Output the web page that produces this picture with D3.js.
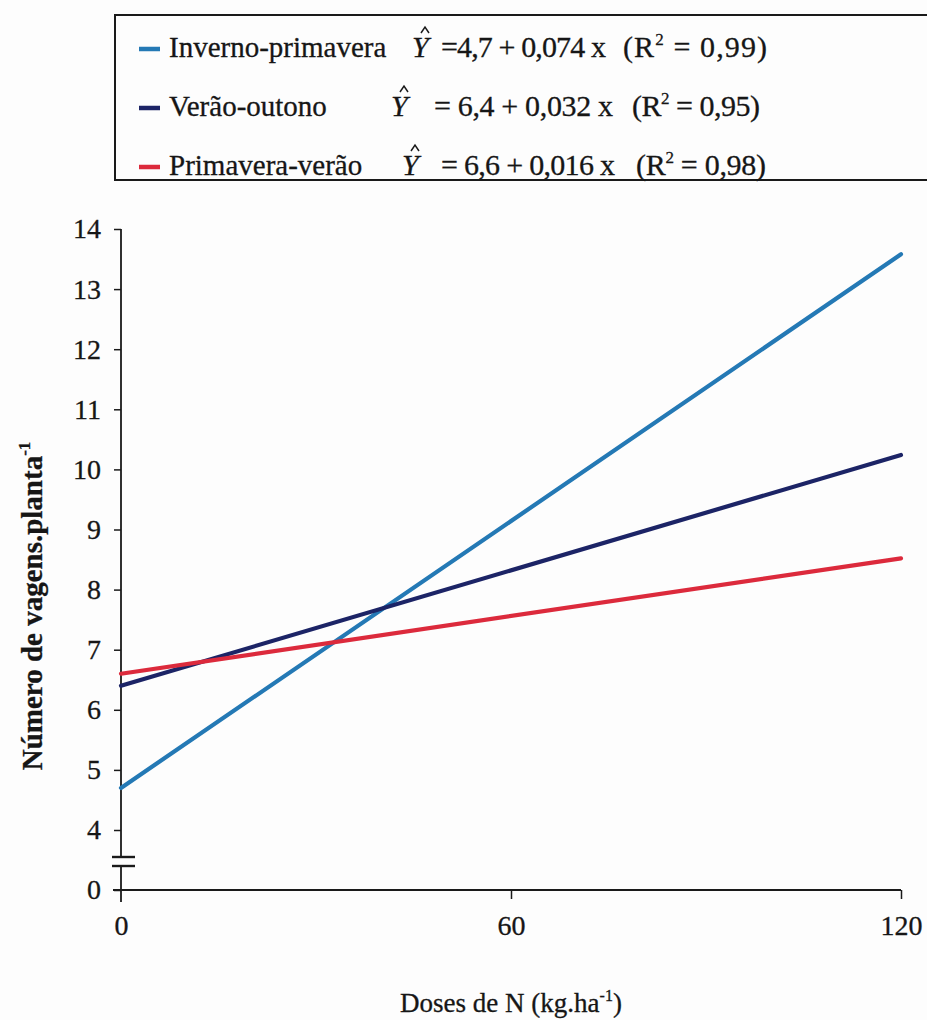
<!DOCTYPE html>
<html>
<head>
<meta charset="utf-8">
<script src="https://cdn.jsdelivr.net/npm/d3@7/dist/d3.min.js"></script>
<style>
  html, body { margin: 0; padding: 0; background: #fdfdfd; }
  svg { display: block; }
  text { font-family: "Liberation Serif", "DejaVu Serif", serif; fill: #161616; stroke: #161616; stroke-width: 0.3px; }
</style>
</head>
<body>
<svg id="chart" width="927" height="1020"></svg>
<script>
// Nitrogen dose (kg/ha) at the ends of each fitted line
const doses = [0, 120];

// Fitted number of pods per plant at each dose
const invernoPrimavera = [4.7, 13.58];
const veraoOutono = [6.4, 10.24];
const primaveraVerao = [6.6, 8.52];

// Legend entries
const seriesNames = ["Inverno-primavera", "Verão-outono", "Primavera-verão"];
const equationTexts = ["=4,7 + 0,074 x", "= 6,4 + 0,032 x", "= 6,6 + 0,016 x"];
const r2Texts = ["0,99", "0,95", "0,98"];

// Axis ticks
const xTicks = [0, 60, 120];
const yTicks = [0, 4, 5, 6, 7, 8, 9, 10, 11, 12, 13, 14];

const colors = ["#2479b5", "#1c2466", "#dc2a3c"];
const seriesValues = [invernoPrimavera, veraoOutono, primaveraVerao];

const svg = d3.select("#chart");

// Broken y-axis: 0 sits just below 4
const x = d3.scaleLinear().domain([0, 120]).range([121, 901]);
const y = d3.scaleLinear().domain([0, 4, 14]).range([890, 830, 229]);

const ink = "#1a1a1a";

// ---- Y axis ----
const yAxis = d3.axisLeft(y).tickValues(yTicks).tickSize(7).tickPadding(13)
  .tickFormat(d3.format("d"));
const gy = svg.append("g").attr("transform", `translate(${x(0)},0)`).call(yAxis);
gy.select(".domain").remove();
gy.selectAll(".tick line").attr("stroke", ink).attr("stroke-width", 1.5);
gy.selectAll(".tick text").attr("font-size", 28);

// axis spine with a gap for the break marks
const breakTop = 857, breakBottom = 866;
svg.append("line").attr("x1", x(0)).attr("x2", x(0))
  .attr("y1", y(14)).attr("y2", breakTop)
  .attr("stroke", ink).attr("stroke-width", 1.8);
svg.append("line").attr("x1", x(0)).attr("x2", x(0))
  .attr("y1", breakBottom).attr("y2", y(0) + 12)
  .attr("stroke", ink).attr("stroke-width", 1.8);
svg.selectAll("line.brk").data([breakTop, breakBottom]).enter().append("line")
  .attr("class", "brk")
  .attr("x1", x(0) - 9).attr("x2", x(0) + 14)
  .attr("y1", d => d).attr("y2", d => d)
  .attr("stroke", ink).attr("stroke-width", 2.4);

// ---- X axis ----
const xAxis = d3.axisBottom(x).tickValues(xTicks).tickSize(9).tickPadding(16)
  .tickFormat(d3.format("d"));
const gx = svg.append("g").attr("transform", `translate(0,${y(0)})`).call(xAxis);
gx.select(".domain").remove();
gx.selectAll(".tick line").attr("stroke", ink).attr("stroke-width", 1.5)
  .filter(d => d === 0).remove();
gx.selectAll(".tick text").attr("font-size", 28);
svg.append("line").attr("x1", x(0) - 8).attr("x2", x(120))
  .attr("y1", y(0)).attr("y2", y(0))
  .attr("stroke", ink).attr("stroke-width", 1.8);

// ---- Lines ----
const line = d3.line().x((d, i) => x(doses[i])).y(d => y(d));
svg.selectAll("path.series").data(seriesValues).enter().append("path")
  .attr("class", "series")
  .attr("d", d => line(d))
  .attr("fill", "none")
  .attr("stroke", (d, i) => colors[i])
  .attr("stroke-width", 4.2)
  .attr("stroke-linecap", "round");

// ---- Axis titles ----
const xt = svg.append("text").attr("x", 511).attr("y", 1012)
  .attr("text-anchor", "middle").attr("font-size", 27);
xt.append("tspan").text("Doses de N (kg.ha");
xt.append("tspan").text("-1").attr("font-size", 16).attr("dy", -11);
xt.append("tspan").text(")").attr("dy", 11);

const yt = svg.append("text")
  .attr("transform", "translate(42,606) rotate(-90)")
  .attr("text-anchor", "middle").attr("font-size", 29).attr("font-weight", "bold");
yt.append("tspan").text("Número de vagens.planta");
yt.append("tspan").text("-1").attr("font-size", 17).attr("dy", -12);

// ---- Legend box ----
svg.append("rect").attr("x", 115).attr("y", 15).attr("width", 830).attr("height", 165)
  .attr("fill", "none").attr("stroke", ink).attr("stroke-width", 2);

const rowBase = [57, 116, 175];
const yHatX = [412, 391, 402];
const eqX = [441, 434, 441];
const eqW = [165, 179, 174];
const rX = [623, 632, 636];
const rW = [144, 128, 130];

const rows = svg.selectAll("g.leg").data(seriesNames).enter().append("g")
  .attr("class", "leg")
  .attr("transform", (d, i) => `translate(0,${rowBase[i]})`);

rows.append("line")
  .attr("x1", 139).attr("x2", 160).attr("y1", -8).attr("y2", -8)
  .attr("stroke", (d, i) => colors[i]).attr("stroke-width", 4.5);

rows.append("text").attr("x", 169).attr("y", 0).attr("font-size", 29)
  .text(d => d);

rows.append("text").attr("x", (d, i) => yHatX[i]).attr("y", 0)
  .attr("font-size", 30).attr("font-style", "italic").text("Y");
rows.append("path")
  .attr("d", (d, i) => {
    const cx = yHatX[i] + 13;
    return `M${cx - 4},-24 L${cx},-30 L${cx + 4},-24`;
  })
  .attr("fill", "none").attr("stroke", ink).attr("stroke-width", 1.5);

rows.append("text").attr("x", (d, i) => eqX[i]).attr("y", 0)
  .attr("font-size", 30)
  .attr("textLength", (d, i) => eqW[i]).attr("lengthAdjust", "spacing")
  .text((d, i) => equationTexts[i]);

const r2 = rows.append("text").attr("x", (d, i) => rX[i]).attr("y", 0)
  .attr("font-size", 30)
  .attr("textLength", (d, i) => rW[i]).attr("lengthAdjust", "spacing");
r2.append("tspan").text("(R");
r2.append("tspan").text("2").attr("font-size", 17).attr("dy", -12);
r2.append("tspan").text((d, i) => " = " + r2Texts[i] + ")").attr("dy", 12);
</script>
</body>
</html>
